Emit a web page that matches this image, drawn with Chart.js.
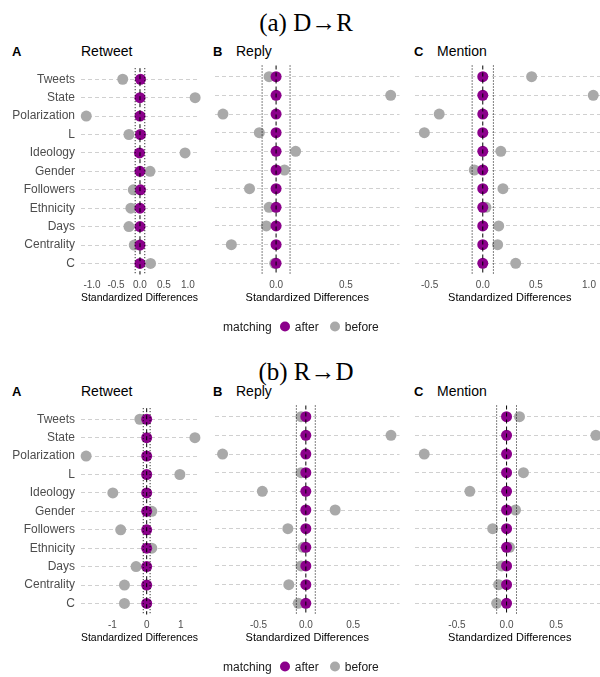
<!DOCTYPE html>
<html>
<head>
<meta charset="utf-8">
<script src="https://cdn.jsdelivr.net/npm/chart.js@4.4.1/dist/chart.umd.min.js"></script>
<style>
  html, body { margin: 0; padding: 0; background: #fff; overflow: hidden; }
  #wrap { position: relative; width: 600px; height: 677px; overflow: hidden; font-family: "Liberation Sans", Arial, sans-serif; }
  canvas { position: absolute; }
  .title { position: absolute; font-family: "Liberation Serif", "Times New Roman", serif; font-size: 25px; color: #000; transform: translate(-50%, -50%); white-space: nowrap; }
  .tag { position: absolute; font-weight: bold; font-size: 13px; color: #000; transform: translateY(-50%); }
  .ptitle { position: absolute; font-size: 14px; color: #000; transform: translateY(-50%); }
  .legend { position: absolute; left: 223px; font-size: 12px; color: #1a1a1a; transform: translateY(-50%); white-space: nowrap; }
  .legend span { display: inline-block; vertical-align: middle; }
  .dot { width: 10px; height: 10px; border-radius: 50%; }
</style>
</head>
<body>
<div id="wrap">
  <div class="title" style="left:306px; top:23px;">(a) D→R</div>
  <div class="tag" style="left:12px; top:51px;">A</div>
  <div class="ptitle" style="left:81px; top:51px;">Retweet</div>
  <div class="tag" style="left:213px; top:51px;">B</div>
  <div class="ptitle" style="left:236px; top:51px;">Reply</div>
  <div class="tag" style="left:414px; top:51px;">C</div>
  <div class="ptitle" style="left:437px; top:51px;">Mention</div>
  <canvas id="a1" width="210" height="250" style="left:0; top:55px;"></canvas>
  <canvas id="a2" width="200" height="250" style="left:205px; top:55px;"></canvas>
  <canvas id="a3" width="205" height="250" style="left:405px; top:55px;"></canvas>
  <div class="legend" style="top:326px;">
    <span>matching</span><span class="dot" style="background:#8B008B; margin-left:8px;"></span><span style="margin-left:5px;">after</span><span class="dot" style="background:#A9A9A9; margin-left:11px;"></span><span style="margin-left:5px;">before</span>
  </div>

  <div class="title" style="left:306px; top:372px;">(b) R→D</div>
  <div class="tag" style="left:12px; top:391px;">A</div>
  <div class="ptitle" style="left:81px; top:391px;">Retweet</div>
  <div class="tag" style="left:213px; top:391px;">B</div>
  <div class="ptitle" style="left:236px; top:391px;">Reply</div>
  <div class="tag" style="left:414px; top:391px;">C</div>
  <div class="ptitle" style="left:437px; top:391px;">Mention</div>
  <canvas id="b1" width="210" height="250" style="left:0; top:395px;"></canvas>
  <canvas id="b2" width="200" height="250" style="left:205px; top:395px;"></canvas>
  <canvas id="b3" width="205" height="250" style="left:405px; top:395px;"></canvas>
  <div class="legend" style="top:666px;">
    <span>matching</span><span class="dot" style="background:#8B008B; margin-left:8px;"></span><span style="margin-left:5px;">after</span><span class="dot" style="background:#A9A9A9; margin-left:11px;"></span><span style="margin-left:5px;">before</span>
  </div>
</div>
<script>
const features = ['Tweets', 'State', 'Polarization', 'L', 'Ideology', 'Gender', 'Followers', 'Ethnicity', 'Days', 'Centrality', 'C'];
const refLines = [-0.1, 0, 0.1];

// (a) D -> R
const retweetBeforeDR = [-0.36, 1.15, -1.12, -0.23, 0.94, 0.21, -0.14, -0.19, -0.23, -0.12, 0.22];
const retweetAfterDR  = [0.01, 0.00, 0.00, 0.01, -0.01, 0.00, 0.01, 0.00, 0.00, 0.00, 0.00];
const replyBeforeDR   = [-0.05, 0.82, -0.38, -0.12, 0.14, 0.06, -0.19, -0.05, -0.07, -0.32, -0.01];
const replyAfterDR    = [0.00, 0.00, 0.00, 0.00, 0.00, 0.00, 0.00, 0.00, 0.00, 0.00, 0.00];
const mentionBeforeDR = [0.46, 1.04, -0.41, -0.55, 0.17, -0.08, 0.19, 0.03, 0.15, 0.14, 0.31];
const mentionAfterDR  = [0.00, 0.00, 0.00, 0.00, 0.00, 0.00, 0.00, 0.00, 0.00, 0.00, 0.00];

// (b) R -> D
const retweetBeforeRD = [-0.20, 1.41, -1.77, 0.97, -0.99, 0.15, -0.76, 0.15, -0.31, -0.65, -0.65];
const retweetAfterRD  = [0.00, 0.00, 0.00, 0.00, 0.00, 0.00, 0.00, 0.00, 0.00, 0.00, 0.00];
const replyBeforeRD   = [-0.05, 0.90, -0.88, -0.05, -0.46, 0.31, -0.19, -0.03, -0.05, -0.18, -0.08];
const replyAfterRD    = [0.00, 0.00, 0.00, 0.00, 0.00, 0.00, 0.00, 0.00, 0.00, 0.00, 0.00];
const mentionBeforeRD = [0.13, 0.90, -0.83, 0.17, -0.37, 0.09, -0.14, 0.03, -0.05, -0.08, -0.10];
const mentionAfterRD  = [0.00, 0.00, 0.00, 0.00, 0.00, 0.00, 0.00, 0.00, 0.00, 0.00, 0.00];

// tick labels
const ticksRetweetDR = [-1, -0.5, 0, 0.5, 1];
const ticksReplyDR   = [0, 0.5];
const ticksMentionDR = [-0.5, 0, 0.5, 1];
const ticksRetweetRD = [-1, 0, 1];
const ticksReplyRD   = [-0.5, 0, 0.5];
const ticksMentionRD = [-0.5, 0, 0.5];

const PURPLE = '#8B008B';
const GREY = '#A9A9A9';
const TEXT = '#4D4D4D';

function refDataset(x) {
    return {
        type: 'line',
        data: [{ x: x, y: -0.6 }, { x: x, y: features.length - 0.4 }],
        showLine: true,
        borderColor: '#000',
        borderWidth: 1,
        borderDash: x === 0 ? [4, 3] : [1, 2],
        pointRadius: 0,
        clip: false
    };
}

function makePanel(id, before, after, xMin, xMax, ticks, decimals, showLabels) {
    const ctx = document.getElementById(id).getContext('2d');
    return new Chart(ctx, {
        type: 'scatter',
        data: {
            datasets: [
                ...refLines.map(refDataset),
                {
                    label: 'after',
                    data: after.map((v, i) => ({ x: v, y: i })),
                    backgroundColor: PURPLE,
                    borderWidth: 0,
                    pointRadius: 5.5,
                    clip: false
                },
                {
                    label: 'before',
                    data: before.map((v, i) => ({ x: v, y: i })),
                    backgroundColor: GREY,
                    borderWidth: 0,
                    pointRadius: 5.5,
                    clip: false
                }
            ]
        },
        options: {
            responsive: false,
            animation: false,
            devicePixelRatio: 1,
            layout: { padding: { top: 10.5, bottom: 0, left: showLabels ? 0 : 10, right: showLabels ? 12 : 4 } },
            plugins: { legend: { display: false }, tooltip: { enabled: false } },
            scales: {
                x: {
                    type: 'linear',
                    min: xMin,
                    max: xMax,
                    afterBuildTicks: (scale) => { scale.ticks = ticks.map(v => ({ value: v })); },
                    afterFit: (scale) => { scale.height = 30.5; },
                    grid: { display: false, drawTicks: false, tickLength: 0 },
                    border: { display: false },
                    ticks: {
                        padding: 5,
                        autoSkip: false,
                        maxRotation: 0,
                        minRotation: 0,
                        color: TEXT,
                        font: { family: 'Liberation Sans', size: 10 },
                        callback: (v) => Number(v).toFixed(decimals)
                    },
                    title: {
                        display: true,
                        text: 'Standardized Differences',
                        color: '#000',
                        padding: 0,
                        font: { family: 'Liberation Sans', size: 11 }
                    }
                },
                y: {
                    type: 'linear',
                    reverse: true,
                    min: -0.6,
                    max: features.length - 0.4,
                    afterBuildTicks: (scale) => { scale.ticks = features.map((f, i) => ({ value: i })); },
                    afterFit: (scale) => { scale.width = showLabels ? 81 : 0; },
                    grid: { color: '#C4C4C4', lineWidth: 0.8, drawTicks: false, tickLength: 0 },
                    border: { display: false, dash: [4, 3] },
                    ticks: {
                        display: showLabels,
                        padding: 6,
                        autoSkip: false,
                        color: TEXT,
                        font: { family: 'Liberation Sans', size: 12 },
                        callback: (v) => features[v]
                    }
                }
            }
        }
    });
}

makePanel('a1', retweetBeforeDR, retweetAfterDR, -1.23, 1.21, ticksRetweetDR, 1, true);
makePanel('a2', replyBeforeDR, replyAfterDR, -0.437, 0.883, ticksReplyDR, 1, false);
makePanel('a3', mentionBeforeDR, mentionAfterDR, -0.638, 1.146, ticksMentionDR, 1, false);
makePanel('b1', retweetBeforeRD, retweetAfterRD, -1.92, 1.50, ticksRetweetRD, 0, true);
makePanel('b2', replyBeforeRD, replyAfterRD, -0.96, 0.99, ticksReplyRD, 1, false);
makePanel('b3', mentionBeforeRD, mentionAfterRD, -0.923, 0.987, ticksMentionRD, 1, false);
</script>
</body>
</html>
